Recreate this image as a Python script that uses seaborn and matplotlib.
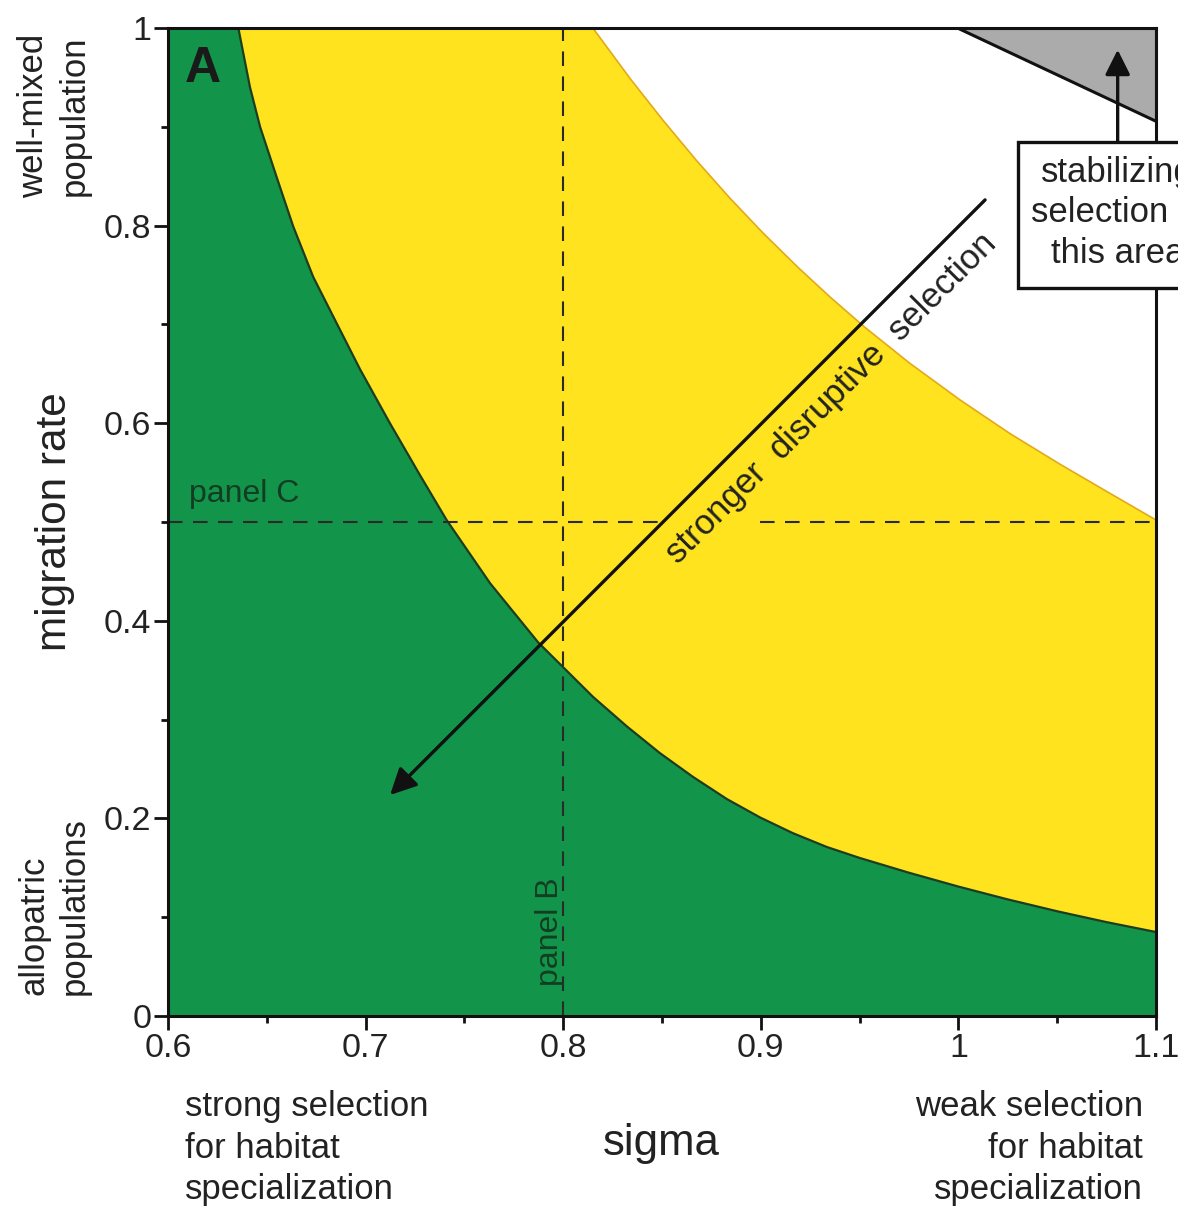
import numpy as np
import pandas as pd
import matplotlib
matplotlib.use("Agg")
import matplotlib.pyplot as plt
from matplotlib.patches import Polygon, Rectangle
from matplotlib.ticker import FixedLocator, FixedFormatter
import seaborn as sns

# ---------------- data ----------------
# lower boundary (top of green region)
green_sigma = [0.6356, 0.6415, 0.6466, 0.6550, 0.6634, 0.6735, 0.6854, 0.6972,
               0.7123, 0.7275, 0.7410, 0.7630, 0.7874, 0.8000, 0.8151, 0.8323,
               0.8490, 0.8657, 0.8829, 0.8996, 0.9163, 0.9335, 0.9500, 0.9750,
               1.0000, 1.0250, 1.0500, 1.0750, 1.1000]
green_m = [1.000, 0.940, 0.900, 0.849, 0.799, 0.748, 0.701, 0.6545,
           0.600, 0.5475, 0.502, 0.438, 0.378, 0.353, 0.323, 0.293,
           0.266, 0.242, 0.2195, 0.201, 0.185, 0.171, 0.160, 0.145,
           0.131, 0.118, 0.106, 0.095, 0.085]

# upper boundary (top of yellow region)
yellow_sigma = [0.8150, 0.8338, 0.8505, 0.8677, 0.8844, 0.9011, 0.9183, 0.9350,
                0.9527, 0.9755, 1.0008, 1.0261, 1.0514, 1.0767, 1.1000]
yellow_m = [1.000, 0.949, 0.9066, 0.8653, 0.8277, 0.7926, 0.7587, 0.7278,
            0.697, 0.6605, 0.6236, 0.5895, 0.5585, 0.5290, 0.502]

# stabilizing-selection triangle
stab_sigma = [1.000, 1.100, 1.100]
stab_m = [1.000, 1.000, 0.906]

# reference lines
panelB_sigma = 0.8
panelC_m = 0.5
panelC_segments = [(0.6, 0.852), (0.8996, 1.1)]

# arrow "stronger disruptive selection"
arrow_sigma = [1.0135, 0.7124]
arrow_m = [0.826, 0.2237]

# arrow to triangle
up_arrow_sigma = 1.0806
up_arrow_m = [0.885, 0.978]

x_ticks = [0.6, 0.7, 0.8, 0.9, 1.0, 1.1]
x_ticklabels = ["0.6", "0.7", "0.8", "0.9", "1", "1.1"]
y_ticks = [0.0, 0.2, 0.4, 0.6, 0.8, 1.0]
y_ticklabels = ["0", "0.2", "0.4", "0.6", "0.8", "1"]
x_minor = [0.65, 0.75, 0.85, 0.95, 1.05]
y_minor = [0.1, 0.3, 0.5, 0.7, 0.9]

# ---------------- styling ----------------
sns.set_theme(style="ticks")
plt.rcParams["font.family"] = ["Liberation Sans", "DejaVu Sans"]

GREEN = "#12944A"
YELLOW = "#FFE31E"
GREY = "#ABABAB"
TXT = "#222222"

W, H = 1178, 1211
fig = plt.figure(figsize=(W / 100, H / 100), dpi=100)
ax = fig.add_axes([168 / W, 1 - 1016 / H, (1156 - 168) / W, (1016 - 28) / H])
ax.set_xlim(0.6, 1.1)
ax.set_ylim(0, 1)
ax.set_facecolor("white")

xmin, xmax = ax.get_xlim()
ymin, ymax = ax.get_ylim()

# green region
g_pts = [(xmin, ymin), (xmin, ymax)] + list(zip(green_sigma, green_m)) + [(xmax, ymin)]
ax.add_patch(Polygon(g_pts, closed=True, facecolor=GREEN, edgecolor="none", zorder=1))

# yellow region
y_pts = list(zip(green_sigma, green_m)) + \
        list(zip(yellow_sigma[::-1], yellow_m[::-1]))
ax.add_patch(Polygon(y_pts, closed=True, facecolor=YELLOW, edgecolor="none", zorder=1))

# grey triangle
ax.add_patch(Polygon(list(zip(stab_sigma, stab_m)), closed=True, facecolor=GREY,
                     edgecolor="#111111", lw=2.2, zorder=2))

# boundary lines through seaborn
sns.lineplot(x=green_sigma, y=green_m, ax=ax, sort=False, estimator=None,
             color="#1c3d20", lw=1.6, zorder=3)
sns.lineplot(x=yellow_sigma, y=yellow_m, ax=ax, sort=False, estimator=None,
             color="#E3A91A", lw=1.2, zorder=3)

# dashed reference lines
dash = (0, (7, 5))
ax.plot([panelB_sigma, panelB_sigma], [ymin, ymax], color="#2a2a2a", lw=1.5,
        linestyle=dash, zorder=4)
for a, b in panelC_segments:
    ax.plot([a, b], [panelC_m, panelC_m], color="#2a2a2a", lw=1.5, linestyle=dash, zorder=4)

ax.text(0.6106, 0.513, "panel C", fontsize=23, color="#123d22", ha="left",
        va="bottom", zorder=5)
ax.text(0.7935, 0.085, "panel B", fontsize=23, color="#123d22", ha="center",
        va="center", rotation=90, zorder=5)

# panel letter
ax.text(0.6086, 0.982, "A", fontsize=36, fontweight="bold", color="#1a1a1a",
        ha="left", va="top", zorder=5)

# disruptive selection arrow
ax.annotate("", xy=(arrow_sigma[1], arrow_m[1]), xytext=(arrow_sigma[0], arrow_m[0]),
            arrowprops=dict(arrowstyle="-|>", color="#111111", lw=2.4,
                            mutation_scale=40, shrinkA=0, shrinkB=0), zorder=6)
ax.text(0.9355, 0.6255, "stronger  disruptive  selection", fontsize=25, color=TXT,
        rotation=45, rotation_mode="anchor", ha="center", va="center", zorder=6)

# stabilizing selection box + arrow
ax.annotate("", xy=(up_arrow_sigma, up_arrow_m[1]), xytext=(up_arrow_sigma, up_arrow_m[0]),
            arrowprops=dict(arrowstyle="-|>", color="#111111", lw=2.4,
                            mutation_scale=38, shrinkA=0, shrinkB=0), zorder=6)
ax.add_patch(Rectangle((1.030, 0.737), 0.2, 0.148, facecolor="white",
                       edgecolor="#111111", lw=2.4, zorder=7, clip_on=False))
ax.text(up_arrow_sigma, 0.8128, "stabilizing\nselection in\nthis area", fontsize=25,
        color=TXT, ha="center", va="center", linespacing=1.28, zorder=8, clip_on=False)

# axes styling
for s in ax.spines.values():
    s.set_linewidth(2.2)
    s.set_color("#111111")
    s.set_zorder(5)
ax.xaxis.set_major_locator(FixedLocator(x_ticks))
ax.xaxis.set_major_formatter(FixedFormatter(x_ticklabels))
ax.yaxis.set_major_locator(FixedLocator(y_ticks))
ax.yaxis.set_major_formatter(FixedFormatter(y_ticklabels))
ax.xaxis.set_minor_locator(FixedLocator(x_minor))
ax.yaxis.set_minor_locator(FixedLocator(y_minor))
ax.tick_params(which="major", direction="out", length=10, width=2, color="#111111",
               labelsize=24.5, labelcolor=TXT, pad=2)
ax.tick_params(which="minor", direction="out", length=5, width=2, color="#111111")
ax.set_xlabel("")
ax.set_ylabel("")

# figure-level labels
def fx(px):
    return px / W

def fy(py):
    return 1 - py / H

fig.text(fx(661), fy(1143), "sigma", fontsize=31.5, color=TXT, ha="center", va="center")
fig.text(fx(55), fy(522), "migration rate", fontsize=30.5, color=TXT, ha="center",
         va="center", rotation=90)
fig.text(fx(185), fy(1148), "strong selection\nfor habitat\nspecialization", fontsize=25,
         color=TXT, ha="left", va="center", linespacing=1.32)
fig.text(fx(1143), fy(1148), "weak selection\nfor habitat\nspecialization", fontsize=25,
         color=TXT, ha="right", va="center", linespacing=1.32, multialignment="right")
fig.text(fx(54), fy(116), "well-mixed\npopulation", fontsize=25, color=TXT,
         ha="center", va="center", rotation=90, linespacing=1.3)
fig.text(fx(54), fy(906), "allopatric\npopulations", fontsize=25, color=TXT,
         ha="center", va="center", rotation=90, linespacing=1.3, multialignment="left")

fig.savefig("out.png", dpi=100, facecolor="white")
